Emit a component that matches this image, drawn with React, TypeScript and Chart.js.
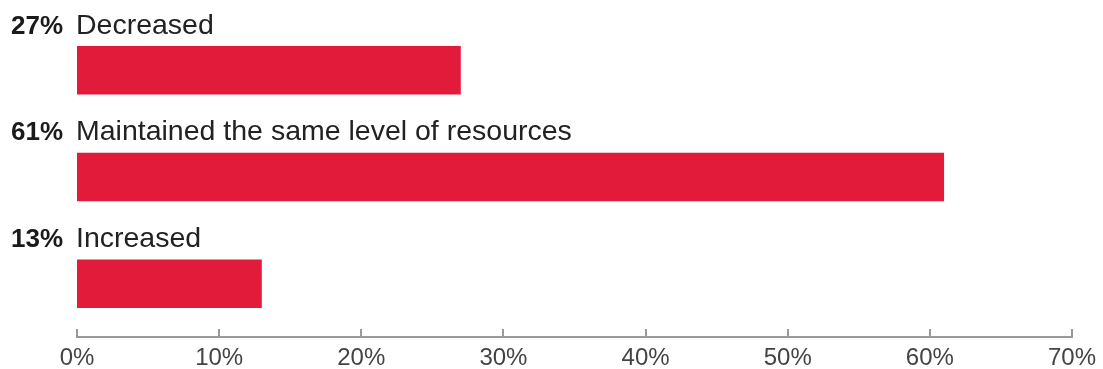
import React, { useEffect, useRef } from "react";
import { Chart, registerables } from "chart.js";

Chart.register(...registerables);

const categories = ["Decreased", "Maintained the same level of resources", "Increased"];
const values = [27, 61, 13];
const valueLabels = ["27%", "61%", "13%"];
const tickValues = [0, 10, 20, 30, 40, 50, 60, 70];

const FONT = "'Liberation Sans', Arial, Helvetica, sans-serif";

const labelPlugin = {
  id: "barLabels",
  afterDatasetsDraw(chart: any) {
    const ctx = chart.ctx;
    const meta = chart.getDatasetMeta(0);
    const xScale = chart.scales.x;
    const x0 = xScale.getPixelForValue(0);
    ctx.save();
    ctx.textBaseline = "alphabetic";
    meta.data.forEach((el: any, i: number) => {
      const top = el.y - el.height / 2;
      const baseline = top - 12.5;
      ctx.font = `bold 26px ${FONT}`;
      ctx.fillStyle = "#1a1a1a";
      ctx.textAlign = "right";
      ctx.fillText(valueLabels[i], x0 - 14, baseline);
      ctx.font = `28.5px ${FONT}`;
      ctx.fillStyle = "#222";
      ctx.textAlign = "left";
      ctx.fillText(categories[i], x0 - 1, baseline);
    });
    // upward tick marks on the axis
    const bottom = chart.chartArea.bottom;
    ctx.strokeStyle = "#999";
    ctx.lineWidth = 2;
    xScale.ticks.forEach((_t: any, i: number) => {
      const x = Math.round(xScale.getPixelForTick(i));
      ctx.beginPath();
      ctx.moveTo(x, bottom - 8);
      ctx.lineTo(x, bottom);
      ctx.stroke();
    });
    ctx.restore();
  },
};

export default function App() {
  const ref = useRef<HTMLCanvasElement>(null);
  useEffect(() => {
    if (!ref.current) return;
    const chart = new Chart(ref.current, {
      type: "bar",
      data: {
        labels: categories,
        datasets: [
          {
            data: values,
            backgroundColor: "#E31B3A",
            borderWidth: 0,
            barPercentage: 0.455,
            categoryPercentage: 1,
          },
        ],
      },
      options: {
        indexAxis: "y",
        animation: false,
        responsive: true,
        maintainAspectRatio: false,
        layout: { padding: { left: 77, right: 31, top: 17, bottom: -10 } },
        plugins: { legend: { display: false }, tooltip: { enabled: false } },
        scales: {
          y: { display: false },
          x: {
            min: 0,
            max: 70,
            afterBuildTicks: (scale: any) => {
              scale.ticks = tickValues.map((v) => ({ value: v }));
            },
            afterFit: (scale: any) => {
              scale.paddingRight = 0;
              scale.paddingLeft = 0;
            },
            ticks: {
              callback: (v: any) => `${v}%`,
              font: { family: FONT, size: 24, lineHeight: 1 },
              color: "#444",
              padding: 9,
              maxRotation: 0,
              autoSkip: false,
            },
            grid: { display: false, drawTicks: false },
            border: { display: true, color: "#999", width: 2 },
          },
        },
      },
      plugins: [labelPlugin],
    });
    return () => chart.destroy();
  }, []);
  return (
    <div style={{ position: "fixed", left: 0, top: 0, width: 1103, height: 369, background: "#fff" }}>
      <canvas ref={ref} />
    </div>
  );
}
